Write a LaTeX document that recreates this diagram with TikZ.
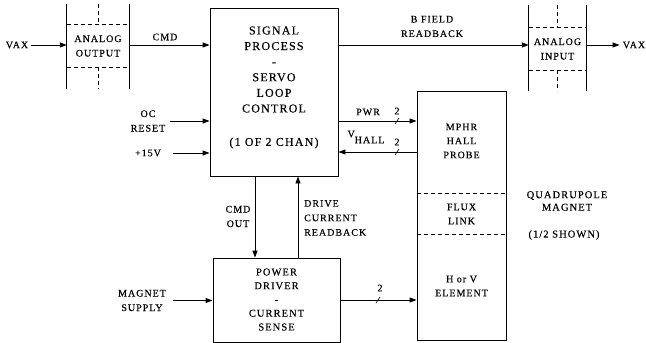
\documentclass[tikz,border=0pt]{standalone}
\usepackage{fontspec}
\setmainfont{Liberation Serif}[LetterSpace=10,FakeBold=0.3]
\usetikzlibrary{arrows.meta}
\tikzset{
  blk/.style={draw, line width=0.9pt, inner sep=0pt},
  lbl/.style={inner sep=0pt, align=center, font=\fontsize{10}{14.5}\selectfont},
  big/.style={inner sep=0pt, align=center, font=\fontsize{12}{15.6}\selectfont},
  mid/.style={inner sep=0pt, align=center, font=\fontsize{10.5}{13.75}\selectfont},
  arr/.style={line width=0.9pt, -{Triangle[length=7pt,width=5pt]}},
  ln/.style={line width=0.9pt},
  tk/.style={line width=0.6pt},
  dsh/.style={line width=0.9pt, dash pattern=on 4pt off 3pt},
}
\begin{document}
\begin{tikzpicture}[x=1pt,y=-1pt]
\useasboundingbox (0,0) rectangle (646,343);

% analog output
\node[lbl, minimum width=62pt, minimum height=42pt] (aout) at (98,46) {ANALOG\\OUTPUT};
\draw[ln] ([yshift=21pt]aout.north west) -- ([yshift=-22pt]aout.south west);
\draw[ln] ([yshift=21pt]aout.north east) -- ([yshift=-22pt]aout.south east);
\draw[dsh] (aout.north west) -- (aout.north east);
\draw[dsh] (aout.south west) -- (aout.south east);
\draw[dsh] ([yshift=21pt]aout.north) -- (aout.north);
\draw[dsh] (aout.south) -- ([yshift=-22pt]aout.south);

% analog input
\node[lbl, minimum width=57pt, minimum height=42pt] (ain) at (557.5,49) {ANALOG\\INPUT};
\draw[ln] ([yshift=23pt]ain.north west) -- ([yshift=-21pt]ain.south west);
\draw[ln] ([yshift=23pt]ain.north east) -- ([yshift=-21pt]ain.south east);
\draw[dsh] (ain.north west) -- (ain.north east);
\draw[dsh] (ain.south west) -- (ain.south east);
\draw[dsh] ([yshift=23pt]ain.north) -- (ain.north);
\draw[dsh] (ain.south) -- ([yshift=-21pt]ain.south);

% signal process box
\node[blk, minimum width=128pt, minimum height=168pt] (sig) at (274,92) {};
\node[big] (sigtxt) at (274,69.5) {SIGNAL\\PROCESS\\-\\SERVO\\LOOP\\CONTROL};
\node[big] (sigchan) at (274,143) {(1 OF 2 CHAN)};

% power driver box
\node[blk, minimum width=127pt, minimum height=84pt] (pow) at (276.5,300) {};
\node[mid] (powtxt) at (276.5,299.5) {POWER\\DRIVER\\-\\CURRENT\\SENSE};

% magnet box
\node[blk, minimum width=89pt, minimum height=249pt] (mag) at (461.5,215.5) {};
\draw[dsh] (mag.west |- 0,193) -- (mag.east |- 0,193);
\draw[dsh] (mag.west |- 0,234) -- (mag.east |- 0,234);
\node[mid, font=\fontsize{10}{14}\selectfont] (hall) at (461.5,141) {MPHR\\HALL\\PROBE};
\node[mid, font=\fontsize{10}{14}\selectfont] (flux) at (461.5,214) {FLUX\\LINK};
\node[mid, font=\fontsize{10}{14}\selectfont] (elem) at (461.5,286) {H or V\\ELEMENT};
\node[lbl, font=\fontsize{10.5}{12.5}\selectfont] (quad) at (567,201) {QUADRUPOLE\\MAGNET};
\node[lbl, font=\fontsize{10.5}{12.5}\selectfont] (half) at (564,235) {(1/2 SHOWN)};

% labels
\node[lbl] (vax1) at (17,45) {VAX};
\node[lbl] (vax2) at (634,45) {VAX};
\node[lbl] (cmd) at (165,37) {CMD};
\node[lbl] (bfield) at (432,26.5) {B FIELD\\READBACK};
\node[lbl] (ocr) at (148,121) {OC\\RESET};
\node[lbl] (p15) at (148,153) {+15V};
\node[lbl] (pwr) at (368,112) {PWR};
\node[lbl] (vhall) at (366,137) {V\raisebox{-6pt}{HALL}};
\node[lbl] (cmdout) at (238,216.5) {CMD\\OUT};
\node[lbl, align=left, anchor=west] (drive) at (304,218) {DRIVE\\CURRENT\\READBACK};
\node[lbl] (msup) at (142,300.5) {MAGNET\\SUPPLY};
\node[lbl] (n1) at (397,111) {2};
\node[lbl] (n2) at (397,142) {2};
\node[lbl] (n3) at (380,288) {2};

% connectors
\draw[arr] ([xshift=3pt]vax1.east) -- (aout.west |- vax1.east);
\draw[arr] (aout.east |- 0,45) -- (sig.west |- 0,45);
\draw[arr] (sig.east |- 0,45) -- (ain.west |- 0,45);
\draw[arr] (ain.east |- 0,45) -- ([xshift=-3pt]vax2.west);
\draw[arr] ([xshift=5pt]ocr.east) -- (sig.west |- ocr.east);
\draw[arr] ([xshift=12pt]p15.east) -- (sig.west |- p15.east);
\draw[arr] (sig.east |- 0,121) -- (mag.west |- 0,121);
\draw[arr] (mag.west |- 0,152) -- (sig.east |- 0,152);
\draw[arr] (sig.south -| 255,0) -- (pow.north -| 255,0);
\draw[arr] (pow.north -| 298,0) -- (sig.south -| 298,0);
\draw[arr] ([xshift=7pt]msup.east) -- (pow.west |- msup.east);
\draw[arr] (pow.east |- 0,300) -- (mag.west |- 0,300);

% bus ticks
\draw[tk] (395,124) -- (399,118);
\draw[tk] (395,155) -- (399,149);
\draw[tk] (376,303) -- (380,297);
\end{tikzpicture}
\end{document}
